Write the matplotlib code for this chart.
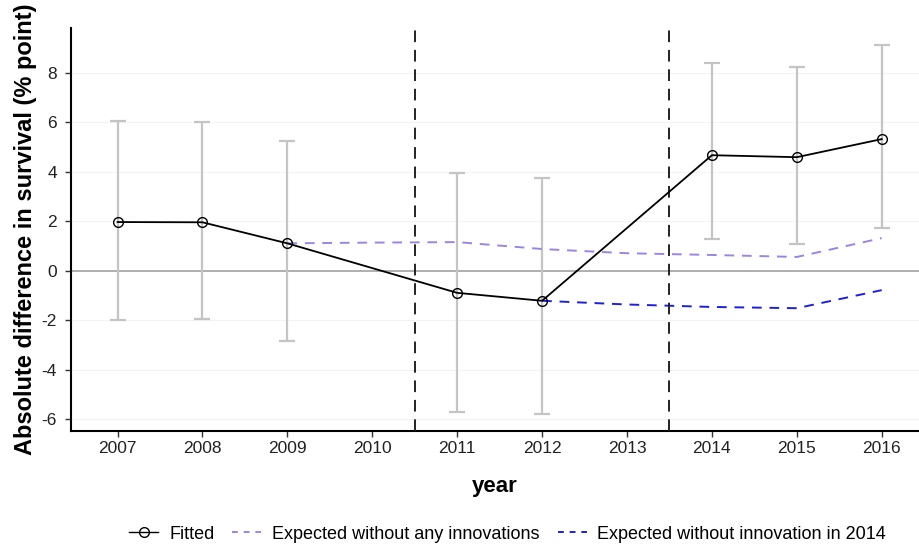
import matplotlib.pyplot as plt
from matplotlib.lines import Line2D

plt.rcParams['font.family'] = ['Liberation Sans', 'DejaVu Sans']
plt.rcParams['axes.unicode_minus'] = False

years = [2007, 2008, 2009, 2011, 2012, 2014, 2015, 2016]
fitted = [1.96, 1.95, 1.10, -0.90, -1.22, 4.66, 4.58, 5.31]
ci_low = [-2.00, -1.96, -2.85, -5.72, -5.80, 1.27, 1.07, 1.72]
ci_high = [6.04, 6.00, 5.23, 3.94, 3.74, 8.38, 8.22, 9.10]

no_innov_years = [2009, 2010, 2011, 2012, 2013, 2014, 2015, 2016]
no_innov = [1.10, 1.13, 1.15, 0.87, 0.70, 0.63, 0.55, 1.31]

no_2014_years = [2012, 2013, 2014, 2015, 2016]
no_2014 = [-1.22, -1.37, -1.47, -1.52, -0.79]

breaks = [2010.5, 2013.5]

fig = plt.figure(figsize=(9.2, 5.48), dpi=100)
ax = fig.add_axes([0.077, 0.2135, 0.922, 0.7355])

for yv in [-6, -4, -2, 2, 4, 6, 8]:
    ax.axhline(yv, color='#f3f3f3', linewidth=0.8, zorder=0)
ax.axhline(0, color='#a8a8a8', linewidth=1.3, zorder=1)

err_lo = [f - l for f, l in zip(fitted, ci_low)]
err_hi = [h - f for f, h in zip(fitted, ci_high)]
ax.errorbar(years, fitted, yerr=[err_lo, err_hi], fmt='none', ecolor='#c4c4c4',
            elinewidth=1.6, capsize=5.5, capthick=1.6, zorder=2)

ax.plot(no_innov_years, no_innov, color='#9a86e0', linestyle=(0, (5, 4)), linewidth=1.4, zorder=3)
ax.plot(no_2014_years, no_2014, color='#1f1fd6', linestyle=(0, (5, 4)), linewidth=1.4, zorder=3)

ax.plot(years, fitted, color='black', linewidth=1.3, marker='o', markersize=7,
        markerfacecolor='none', markeredgecolor='black', markeredgewidth=1.0, zorder=4)

for b in breaks:
    ax.axvline(b, color='#222222', linestyle=(0, (6, 4)), linewidth=1.4, zorder=3)

ax.set_xlim(2006.45, 2016.44)
ax.set_ylim(-6.48, 9.8)
ax.set_xticks(range(2007, 2017))
ax.set_yticks([-6, -4, -2, 0, 2, 4, 6, 8])
ax.tick_params(labelsize=12.5, length=4, width=1, color='#333333', labelcolor='#222222')
ax.tick_params(axis='y', pad=6)

for s in ['top', 'right']:
    ax.spines[s].set_visible(False)
for s in ['left', 'bottom']:
    ax.spines[s].set_linewidth(1.5)

ax.set_xlabel('year', fontsize=16, fontweight='bold', labelpad=14)
ax.set_ylabel('Absolute difference in survival (% point)', fontsize=17, fontweight='bold', labelpad=3)

handles = [
    Line2D([], [], color='black', linewidth=1.0, marker='o', markersize=7,
           markerfacecolor='none'),
    Line2D([], [], color='#9a86e0', linestyle=(0, (3, 3)), linewidth=1.4),
    Line2D([], [], color='#1f1fd6', linestyle=(0, (3, 3)), linewidth=1.4),
]
labels = ['Fitted', 'Expected without any innovations', 'Expected without innovation in 2014']
fig.legend(handles, labels, loc='center', bbox_to_anchor=(0.552, 0.025), ncol=3,
           frameon=False, fontsize=13, handlelength=1.6, columnspacing=1.0, handletextpad=0.6)

fig.savefig('out.png', dpi=100)
